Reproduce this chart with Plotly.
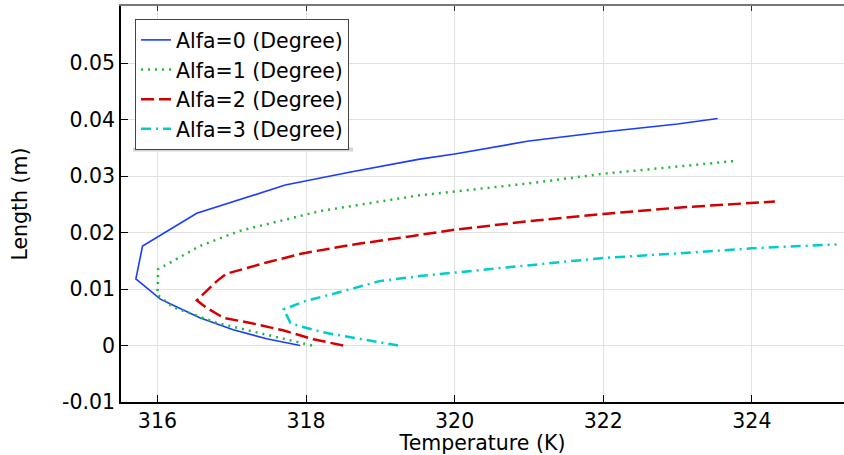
import plotly.graph_objects as go

# Alfa = 0
t0 = [317.92, 317.47, 317.02, 316.57, 316.17, 316.04, 315.71, 315.80, 316.53, 317.72, 318.60, 319.53, 320.0, 321.0, 322.0, 323.0, 323.54]
l0 = [0.0000, 0.0012, 0.0028, 0.0049, 0.0074, 0.0082, 0.0118, 0.0176, 0.0234, 0.0284, 0.0307, 0.0330, 0.0339, 0.0362, 0.0378, 0.0392, 0.0402]
# Alfa = 1
t1 = [318.08, 317.45, 316.80, 316.21, 316.00, 316.01, 316.57, 317.11, 318.19, 319.53, 320.0, 321.0, 322.0, 323.0, 323.80]
l1 = [0.0000, 0.0020, 0.0040, 0.0068, 0.0090, 0.0135, 0.0176, 0.0203, 0.0238, 0.0266, 0.0273, 0.0287, 0.0304, 0.0317, 0.0327]
# Alfa = 2
t2 = [318.50, 318.10, 317.69, 317.25, 316.89, 316.66, 316.53, 316.80, 316.93, 317.47, 317.95, 318.60, 319.44, 320.0, 321.0, 322.0, 323.0, 324.31]
l2 = [0.0000, 0.0011, 0.0027, 0.0040, 0.0049, 0.0067, 0.0080, 0.0114, 0.0127, 0.0147, 0.0163, 0.0178, 0.0194, 0.0205, 0.0220, 0.0233, 0.0244, 0.0255]
# Alfa = 3
t3 = [319.24, 318.59, 318.28, 317.92, 317.79, 317.70, 318.00, 318.41, 318.99, 319.53, 320.0, 321.0, 322.0, 323.0, 324.0, 325.14]
l3 = [0.0000, 0.0015, 0.0022, 0.0034, 0.0040, 0.0064, 0.0079, 0.0093, 0.0114, 0.0123, 0.0129, 0.0141, 0.0155, 0.0163, 0.0172, 0.0179]

names = ["Alfa=0 (Degree)", "Alfa=1 (Degree)", "Alfa=2 (Degree)", "Alfa=3 (Degree)"]
xticks = [316, 318, 320, 322, 324]
yticks = [-0.01, 0, 0.01, 0.02, 0.03, 0.04, 0.05]
ytick_text = ["-0.01", "0", "0.01", "0.02", "0.03", "0.04", "0.05"]

FONT = "DejaVu Sans"
FS = 20.5
fig = go.Figure()
styles = [
    dict(color="#1a3cff", width=1.6, dash="solid"),
    dict(color="#22b83a", width=2.5, dash="2px,5px"),
    dict(color="#d40000", width=2.5, dash="13px,5px"),
    dict(color="#00cccc", width=2.5, dash="10px,5px,2px,5px"),
]
for t, l, n, s in zip([t0, t1, t2, t3], [l0, l1, l2, l3], names, styles):
    fig.add_trace(go.Scatter(x=t, y=l, mode="lines", name=n, line=s))

# invisible trace for top axis
fig.add_trace(go.Scatter(x=[320], y=[0], xaxis="x2", mode="markers",
                         marker=dict(opacity=0), showlegend=False, hoverinfo="skip"))

# legend drop shadow (paper coordinates of the plot area)
fig.add_shape(type="rect", xref="paper", yref="paper",
              x0=(133 - 121) / 723, x1=(353 - 121) / 723,
              y0=(401.7 - 151.5) / 395.7, y1=(401.7 - 147.5) / 395.7,
              fillcolor="#d4d4d4", line=dict(width=0), layer="above")

fig.update_layout(
    width=844, height=455,
    margin=dict(l=121, r=0, t=6, b=53),
    paper_bgcolor="white", plot_bgcolor="white",
    font=dict(family=FONT, size=FS, color="black"),
    xaxis=dict(range=[315.51, 325.24], tickvals=xticks, ticks="inside", ticklen=7,
               tickcolor="black", showline=True, linecolor="black", linewidth=1.5,
               showgrid=True, gridcolor="#e2e2e2", gridwidth=1, zeroline=False,
               automargin=False,
               title=dict(text="Temperature (K)", standoff=2, font=dict(size=FS))),
    xaxis2=dict(overlaying="x", side="top", matches="x", range=[315.51, 325.24],
                tickvals=xticks, ticks="inside", ticklen=5, tickcolor="#333",
                showticklabels=False, showline=True, linecolor="#777", linewidth=1.5,
                showgrid=False, zeroline=False),
    yaxis=dict(range=[-0.01, 0.0601], tickvals=yticks, ticktext=ytick_text,
               ticks="inside", ticklen=7, tickcolor="black", showline=True,
               linecolor="black", linewidth=1.5, showgrid=True, gridcolor="#e2e2e2",
               gridwidth=1, zeroline=False, automargin=False,
               title=dict(text="Length (m)", standoff=29, font=dict(size=FS))),
    legend=dict(x=0.0194, y=0.967, xanchor="left", yanchor="top",
                bgcolor="white", bordercolor="#444", borderwidth=1,
                font=dict(size=FS), tracegroupgap=0),
    showlegend=True,
)
fig.write_html("out.html", config={"displayModeBar": False},
               post_script="document.body.style.margin='0';document.body.style.overflow='hidden';")
